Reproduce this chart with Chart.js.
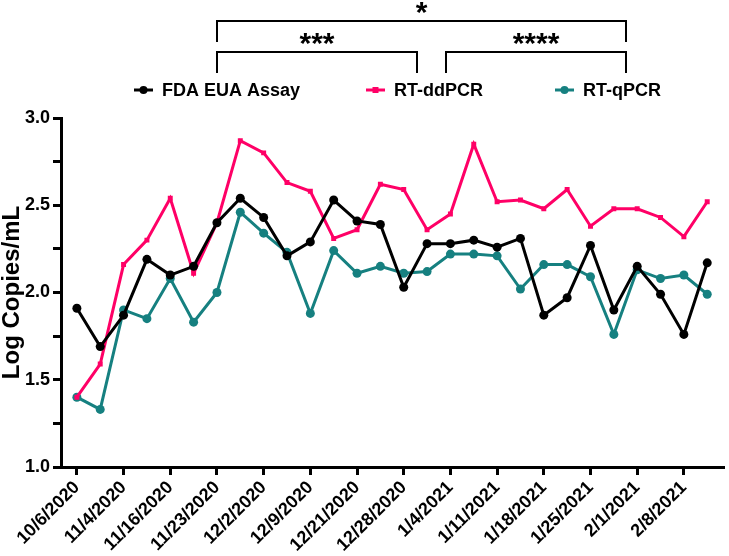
<!DOCTYPE html>
<html>
<head>
<meta charset="utf-8">
<script src="https://cdn.jsdelivr.net/npm/chart.js@4"></script>
<style>
  body { margin: 0; background: #fff; }
</style>
</head>
<body>
<canvas id="chart" width="729" height="556"></canvas>
<script>
// sampling dates (labels shown every second point)
const dateLabels = ['10/6/2020', '11/4/2020', '11/16/2020', '11/23/2020', '12/2/2020', '12/9/2020', '12/21/2020',
    '12/28/2020', '1/4/2021', '1/11/2021', '1/18/2021', '1/25/2021', '2/1/2021', '2/8/2021'];

const fdaEua = [1.91, 1.69, 1.87, 2.19, 2.10, 2.15, 2.40, 2.54, 2.43, 2.21, 2.29, 2.53, 2.41, 2.39,
    2.03, 2.28, 2.28, 2.30, 2.26, 2.31, 1.87, 1.97, 2.27, 1.90, 2.15, 1.99, 1.76, 2.17];
const rtDdpcr = [1.40, 1.59, 2.16, 2.30, 2.54, 2.11, 2.40, 2.87, 2.80, 2.63, 2.58, 2.31, 2.36, 2.62,
    2.59, 2.36, 2.45, 2.85, 2.52, 2.53, 2.48, 2.59, 2.38, 2.48, 2.48, 2.43, 2.32, 2.52];
const rtQpcr = [1.40, 1.33, 1.90, 1.85, 2.08, 1.83, 2.00, 2.46, 2.34, 2.23, 1.88, 2.24, 2.11, 2.15,
    2.11, 2.12, 2.22, 2.22, 2.21, 2.02, 2.16, 2.16, 2.09, 1.76, 2.13, 2.08, 2.10, 1.99];

// significance brackets, in point-index units
const brackets = [
    { from: 6, to: 23.5, level: 0, stars: '*' },
    { from: 6, to: 14.55, level: 1, stars: '***' },
    { from: 15.8, to: 23.5, level: 1, stars: '****' }
];

const FONT = "'Liberation Sans', Arial, sans-serif";
Chart.defaults.font.family = FONT;
Chart.defaults.font.weight = 'bold';
Chart.defaults.color = '#000';

const toPoints = arr => arr.map((v, i) => ({ x: i, y: v }));

// legend drawn by hand so it can sit where the original one is
const legendPlugin = {
    id: 'customLegend',
    afterDraw(chart) {
        const ctx = chart.ctx;
        const starts = [134, 366, 555];
        const y = 90;
        ctx.save();
        ctx.font = `bold 18px ${FONT}`;
        ctx.textBaseline = 'middle';
        chart.data.datasets.forEach((ds, k) => {
            const x = starts[k];
            ctx.strokeStyle = ds.borderColor;
            ctx.lineWidth = 3;
            ctx.beginPath();
            ctx.moveTo(x, y);
            ctx.lineTo(x + 19, y);
            ctx.stroke();
            ctx.fillStyle = ds.borderColor;
            if (ds.pointStyle === 'rect') {
                ctx.fillRect(x + 6.5, y - 3, 6, 6);
            } else {
                ctx.beginPath();
                ctx.arc(x + 9.5, y, 4, 0, Math.PI * 2);
                ctx.fill();
            }
            ctx.fillStyle = '#000';
            ctx.fillText(ds.label, x + 28, y + 1);
        });
        ctx.restore();
    }
};

const bracketPlugin = {
    id: 'brackets',
    afterDraw(chart) {
        const ctx = chart.ctx;
        const xs = chart.scales.x;
        ctx.save();
        ctx.strokeStyle = '#000';
        ctx.fillStyle = '#000';
        ctx.lineWidth = 2;
        ctx.font = `bold 30px ${FONT}`;
        ctx.textAlign = 'center';
        ctx.textBaseline = 'alphabetic';
        brackets.forEach(b => {
            const x1 = Math.round(xs.getPixelForValue(b.from));
            const x2 = Math.round(xs.getPixelForValue(b.to));
            const top = b.level === 0 ? 21 : 52;
            ctx.beginPath();
            ctx.moveTo(x1, top + 21);
            ctx.lineTo(x1, top);
            ctx.lineTo(x2, top);
            ctx.lineTo(x2, top + 21);
            ctx.stroke();
            ctx.fillText(b.stars, (x1 + x2) / 2, top + 1);
        });
        ctx.restore();
    }
};

new Chart(document.getElementById('chart'), {
    type: 'line',
    data: {
        datasets: [
            {
                label: 'FDA EUA Assay',
                data: toPoints(fdaEua),
                borderColor: '#000000',
                backgroundColor: '#000000',
                pointStyle: 'circle',
                pointRadius: 4.5,
                order: 0
            },
            {
                label: 'RT-ddPCR',
                data: toPoints(rtDdpcr),
                borderColor: '#ff0066',
                backgroundColor: '#ff0066',
                pointStyle: 'rect',
                pointRadius: 3.5,
                order: 1
            },
            {
                label: 'RT-qPCR',
                data: toPoints(rtQpcr),
                borderColor: '#168080',
                backgroundColor: '#168080',
                pointStyle: 'circle',
                pointRadius: 4.5,
                order: 2
            }
        ]
    },
    options: {
        responsive: false,
        animation: false,
        devicePixelRatio: 1,
        layout: { padding: { top: 118, left: 0, right: 0, bottom: 0 } },
        elements: {
            line: { borderWidth: 3, tension: 0 },
            point: { borderWidth: 0, hoverRadius: 4 }
        },
        plugins: {
            legend: { display: false },
            tooltip: { enabled: false }
        },
        scales: {
            x: {
                type: 'linear',
                min: -0.68,
                max: 27.74,
                afterBuildTicks: scale => {
                    scale.ticks = dateLabels.map((_, k) => ({ value: k * 2 }));
                },
                afterFit: scale => { scale.height = 89; },
                grid: { drawOnChartArea: false, tickLength: 8, tickWidth: 3, tickColor: '#000' },
                border: { color: '#000', width: 3 },
                ticks: {
                    autoSkip: false,
                    minRotation: 45,
                    maxRotation: 45,
                    padding: 2,
                    font: { size: 18, weight: 'bold' },
                    callback: v => dateLabels[v / 2]
                }
            },
            y: {
                min: 1,
                max: 3,
                afterFit: scale => { scale.width = 61; },
                title: {
                    display: true,
                    text: 'Log Copies/mL',
                    font: { size: 24, weight: 'bold', lineHeight: 1 },
                    padding: { top: 0, bottom: 0 }
                },
                grid: { drawOnChartArea: false, tickLength: 8, tickWidth: 3, tickColor: '#000' },
                border: { color: '#000', width: 3 },
                ticks: {
                    stepSize: 0.25,
                    padding: 3,
                    font: { size: 18, weight: 'bold' },
                    callback: v => (Math.abs(v * 2 - Math.round(v * 2)) < 1e-6 ? v.toFixed(1) : '')
                }
            }
        }
    },
    plugins: [legendPlugin, bracketPlugin]
});
</script>
</body>
</html>
